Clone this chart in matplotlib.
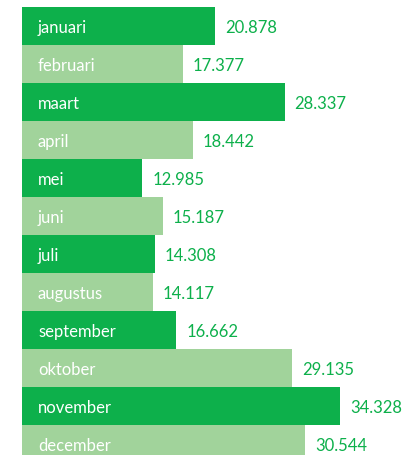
import matplotlib
matplotlib.use("Agg")
import matplotlib.pyplot as plt

# Data
maanden = ['januari', 'februari', 'maart', 'april', 'mei', 'juni',
           'juli', 'augustus', 'september', 'oktober', 'november', 'december']
waarden = [20.878, 17.377, 28.337, 18.442, 12.985, 15.187,
           14.308, 14.117, 16.662, 29.135, 34.328, 30.544]

DONKER = '#0DB04B'
LICHT = '#A1D39B'

plt.rcParams['font.family'] = ['Lato', 'DejaVu Sans']

fig = plt.figure(figsize=(4.09, 4.56), dpi=100)
# 12 rijen van 38 px, beginnend op 8 px van boven (laatste rij valt deels buiten beeld)
ax = fig.add_axes([22 / 409, -8 / 456, 387 / 409, 456 / 456])

kleuren = [DONKER if i % 2 == 0 else LICHT for i in range(len(maanden))]
posities = list(range(len(maanden)))
ax.barh(posities, waarden, height=1.0, color=kleuren, linewidth=0)

for i, (naam, w) in enumerate(zip(maanden, waarden)):
    ax.annotate(naam, xy=(0, i), xytext=(16, -1), textcoords='offset pixels',
                ha='left', va='center', color='white', fontsize=12)
    ax.annotate(f"{w:.3f}", xy=(w, i), xytext=(10, -1), textcoords='offset pixels',
                ha='left', va='center', color=DONKER, fontsize=12)

ax.set_xlim(0, 387 / 9.264)
ax.set_ylim(len(maanden) - 0.5, -0.5)
ax.axis('off')

fig.savefig('out.png', dpi=100)
